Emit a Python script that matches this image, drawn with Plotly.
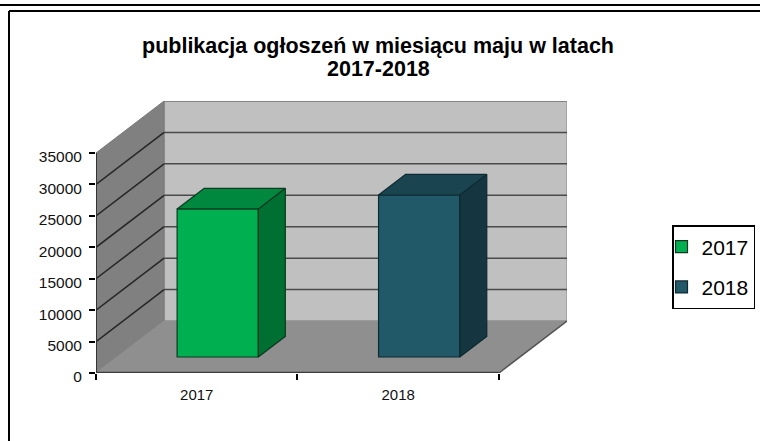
import plotly.graph_objects as go

# ---- data ----
categories = ["2017", "2018"]
series_names = ["2017", "2018"]
values = [23550, 25770]
y_ticks = [0, 5000, 10000, 15000, 20000, 25000, 30000, 35000]
title_lines = ["publikacja ogłoszeń w miesiącu maju w latach", "2017-2018"]

# ---- styles ----
front_colors = ["#00b050", "#215968"]
side_colors = ["#006f32", "#153640"]
top_colors = ["#00893e", "#1a4450"]
edge_colors = ["#0c3a20", "#0d2a32"]
WIDTH, HEIGHT = 760, 441
FONT = "Liberation Sans"

# oblique projection: depth 0..1 shifts a point right and up
YMAX = max(y_ticks)
DX = 0.338            # horizontal shift of full depth, in category units
DY = 8272             # vertical shift of full depth, in value units
BAR_D0, BAR_D1 = 0.308, 0.705   # depth slab occupied by the bars
BAR_W = 0.403
XR = [0, len(categories) + DX]
YR = [0, YMAX + DY]


def proj(c, v, d):
    return c + d * DX, v + d * DY


def poly(points):
    xs, ys = zip(*[proj(*p) for p in points])
    return list(xs) + [xs[0]], list(ys) + [ys[0]]


def face(points, fill, line, axes=("x", "y"), lw=1):
    x, y = poly(points)
    return go.Scatter(x=x, y=y, mode="lines", fill="toself", fillcolor=fill,
                      line=dict(color=line, width=lw), hoverinfo="skip",
                      showlegend=False, xaxis=axes[0], yaxis=axes[1])


def edge(points, color, lw):
    xs, ys = zip(*[proj(*p) for p in points])
    return go.Scatter(x=list(xs), y=list(ys), mode="lines", line=dict(color=color, width=lw),
                      hoverinfo="skip", showlegend=False, cliponaxis=False)


n = len(categories)
fig = go.Figure()

# walls and floor
fig.add_trace(face([(0, 0, 1), (n, 0, 1), (n, YMAX, 1), (0, YMAX, 1)], "#c0c0c0", "#8e8e8e"))
fig.add_trace(face([(0, 0, 0), (0, 0, 1), (0, YMAX, 1), (0, YMAX, 0)], "#808080", "#7a7a7a"))
fig.add_trace(face([(0, 0, 0), (n, 0, 0), (n, 0, 1), (0, 0, 1)], "#8f8f8f", "#8f8f8f"))

# gridlines on left and back wall
for t in y_ticks[1:]:
    if t < YMAX:
        fig.add_trace(edge([(0, t, 0), (0, t, 1)], "#262626", 1.5))
        fig.add_trace(edge([(0, t, 1), (n, t, 1)], "#4a4a4a", 1.5))
    else:
        fig.add_trace(edge([(0, t, 1), (n, t, 1)], "#777777", 1.5))

# axis lines and floor edges
fig.add_trace(edge([(n, 0, 0), (n, 0, 1)], "#555555", 1.5))
fig.add_trace(edge([(0, 0, 0), (0, YMAX, 0)], "#333333", 2))
fig.add_trace(edge([(0, 0, 0), (n, 0, 0)], "#3c3c3c", 2.5))

# bars (overlay axes so they sit above the walls)
for i, (name, v) in enumerate(zip(series_names, values)):
    c = i + 0.5
    l, r = c - BAR_W / 2, c + BAR_W / 2
    base = BAR_D0 * DY
    x0, _ = proj(c, 0, BAR_D0)
    fig.add_trace(go.Bar(x=[x0], y=[v], base=[base], width=[BAR_W], name=name,
                         legendgroup=name,
                         marker=dict(color=front_colors[i], line=dict(color=edge_colors[i], width=1.2)),
                         hoverinfo="skip", xaxis="x2", yaxis="y2"))
    fig.add_trace(face([(r, 0, BAR_D0), (r, 0, BAR_D1), (r, v, BAR_D1), (r, v, BAR_D0)],
                       side_colors[i], edge_colors[i], ("x2", "y2"), 1.2))
    fig.add_trace(face([(l, v, BAR_D0), (r, v, BAR_D0), (r, v, BAR_D1), (l, v, BAR_D1)],
                       top_colors[i], edge_colors[i], ("x2", "y2"), 1.2))

dom_x = [96 / WIDTH, 567 / WIDTH]
dom_y = [1 - 373 / HEIGHT, 1 - 101 / HEIGHT]
y_tick_font = dict(family=FONT, size=15.5, color="#111111")
x_tick_font = dict(family=FONT, size=15, color="#111111")
title_font = dict(family=FONT, size=21.5, color="#000000", weight="bold")

fig.update_layout(
    width=WIDTH, height=HEIGHT, autosize=False,
    margin=dict(l=0, r=0, t=0, b=0, autoexpand=False),
    paper_bgcolor="white", plot_bgcolor="rgba(0,0,0,0)",
    barmode="overlay",
    font=dict(family=FONT, color="#000000"),
    title=dict(text=title_lines[0], x=378 / WIDTH, xanchor="center",
               y=1 - 45 / HEIGHT, yanchor="middle", font=title_font),
    annotations=[dict(text=title_lines[1], xref="paper", yref="paper", x=378 / WIDTH,
                      y=1 - 69 / HEIGHT, xanchor="center", yanchor="middle",
                      showarrow=False, font=title_font)],
    xaxis=dict(domain=dom_x, range=XR, showgrid=False, zeroline=False, showline=False,
               tickmode="array", tickvals=[i + 0.5 for i in range(n)], ticktext=categories,
               ticks="", tickfont=x_tick_font, ticklabelstandoff=11,
               minor=dict(tickmode="array", tickvals=list(range(n + 1)), ticks="outside",
                          ticklen=6, tickwidth=1.5, tickcolor="#000000", showgrid=False)),
    yaxis=dict(domain=dom_y, range=YR, showgrid=False, zeroline=False, showline=False,
               tickmode="array", tickvals=y_ticks, ticktext=[str(t) for t in y_ticks],
               ticks="outside", ticklen=6, tickwidth=1.5, tickcolor="#000000",
               tickfont=y_tick_font, ticklabelstandoff=4, ticklabelshift=4),
    xaxis2=dict(domain=dom_x, range=XR, overlaying="x", anchor="y2", visible=False),
    yaxis2=dict(domain=dom_y, range=YR, overlaying="y", anchor="x2", visible=False),
    legend=dict(x=672 / WIDTH, xanchor="left", y=1 - 225 / HEIGHT, yanchor="top",
                bgcolor="white", bordercolor="#000000", borderwidth=1.5,
                font=dict(family=FONT, size=21, color="#000000"),
                traceorder="grouped", tracegroupgap=10, indentation=-12),
    shapes=[
        dict(type="line", xref="paper", yref="paper", x0=0, x1=1, y0=1 - 5 / HEIGHT, y1=1 - 5 / HEIGHT,
             line=dict(color="#000000", width=2)),
        dict(type="line", xref="paper", yref="paper", x0=9 / WIDTH, x1=1, y0=1 - 11 / HEIGHT, y1=1 - 11 / HEIGHT,
             line=dict(color="#000000", width=2)),
        dict(type="line", xref="paper", yref="paper", x0=9 / WIDTH, x1=9 / WIDTH, y0=0, y1=1 - 11 / HEIGHT,
             line=dict(color="#000000", width=2)),
    ],
)

fig.write_html("out.html", config={"displayModeBar": False},
               post_script="document.body.style.margin='0';")
